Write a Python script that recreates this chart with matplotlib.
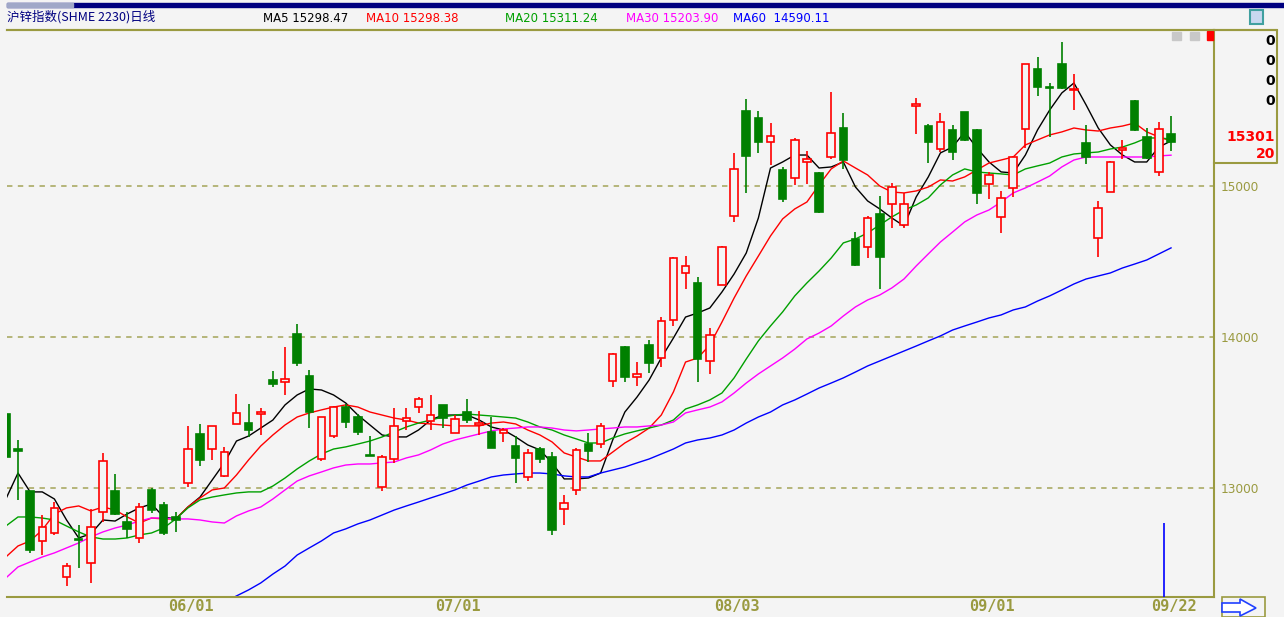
import numpy as np
import matplotlib.pyplot as plt
from matplotlib.patches import Rectangle, Polygon
from matplotlib.transforms import blended_transform_factory

# candle data (daily)
opens = [13490, 13258, 12980, 12649, 12702, 12411, 12662, 12503, 12841, 12980,
         12775, 12669, 12987, 12887, 12808, 13033, 13358, 13258, 13080, 13424,
         13430, 13490, 13715, 13702, 14020, 13742, 13192, 13344, 13536, 13470,
         13218, 13007, 13192, 13444, 13536, 13444, 13550, 13364, 13503, 13417,
         13371, 13364, 13278, 13073, 13258, 13205, 12861, 12987, 13291, 13291,
         13709, 13934, 13735, 13947, 13861, 14113, 14424, 14358, 13841, 14344,
         14801, 15497, 15450, 15291, 15106, 15053, 15159, 15086, 15192, 15384,
         14649, 14596, 14815, 14881, 14742, 15530, 15397, 15245, 15371, 15490,
         15371, 15013, 14795, 14987, 15377, 15775, 15656, 15808, 15636, 15285,
         14656, 14960, 15238, 15563, 15325, 15093, 15344]
highs = [13503, 13318, 12980, 12821, 12907, 12503, 12755, 12861, 13232, 13093,
         12841, 12901, 13000, 12907, 12841, 13410, 13424, 13410, 13272, 13622,
         13556, 13530, 13775, 13934, 14086, 13782, 13470, 13543, 13556, 13490,
         13344, 13218, 13530, 13530, 13602, 13616, 13550, 13483, 13589, 13510,
         13470, 13397, 13344, 13258, 13272, 13238, 12954, 13265, 13364, 13430,
         13894, 13940, 13834, 13980, 14132, 14530, 14536, 14397, 14060, 14603,
         15219, 15576, 15497, 15417, 15126, 15318, 15232, 15093, 15623, 15483,
         14695, 14801, 14934, 15020, 14954, 15583, 15411, 15483, 15404, 15490,
         15377, 15093, 14967, 15199, 15808, 15854, 15682, 15954, 15742, 15404,
         14901, 15166, 15305, 15570, 15384, 15424, 15464]
lows = [13199, 12921, 12570, 12556, 12689, 12351, 12470, 12371, 12775, 12821,
        12669, 12636, 12834, 12689, 12709, 13007, 13146, 13186, 13073, 13424,
        13338, 13351, 13669, 13616, 13808, 13397, 13179, 13331, 13397, 13351,
        13212, 12980, 13166, 13384, 13496, 13384, 13397, 13364, 13430, 13351,
        13265, 13305, 13033, 13046, 13166, 12689, 12755, 12954, 13172, 13265,
        13669, 13702, 13675, 13762, 13801, 14073, 14318, 13702, 13755, 14344,
        14762, 14954, 15219, 15139, 14894, 15007, 15013, 14821, 15179, 15113,
        14470, 14523, 14318, 14722, 14722, 15344, 15152, 15225, 15172, 15298,
        14881, 14914, 14689, 14927, 15252, 15596, 15325, 15642, 15503, 15146,
        14530, 14960, 15179, 15364, 15179, 15066, 15232]
closes = [13205, 13245, 12590, 12742, 12868, 12483, 12656, 12742, 13179, 12828,
          12729, 12874, 12854, 12702, 12788, 13258, 13186, 13410, 13238, 13497,
          13384, 13503, 13689, 13722, 13828, 13503, 13470, 13536, 13437, 13371,
          13212, 13205, 13410, 13463, 13589, 13483, 13463, 13457, 13450, 13430,
          13265, 13384, 13199, 13232, 13192, 12722, 12901, 13252, 13245, 13410,
          13887, 13735, 13755, 13828, 14106, 14523, 14470, 13854, 14013, 14596,
          15113, 15199, 15291, 15331, 14914, 15305, 15179, 14828, 15351, 15172,
          14477, 14788, 14530, 14993, 14881, 15543, 15291, 15424, 15225, 15305,
          14954, 15073, 14921, 15192, 15808, 15656, 15649, 15649, 15642, 15192,
          14854, 15159, 15252, 15371, 15185, 15377, 15291]

# moving averages as shown on the chart
ma5 = [12927, 13099, 12974, 12974, 12927, 12788, 12669, 12696, 12788, 12781,
       12828, 12868, 12894, 12808, 12795, 12874, 12940, 13053, 13166, 13311,
       13344, 13397, 13450, 13550, 13616, 13656, 13649, 13616, 13563, 13483,
       13417, 13351, 13338, 13338, 13384, 13450, 13483, 13483, 13483, 13450,
       13404, 13384, 13338, 13285, 13252, 13166, 13060, 13060, 13066, 13099,
       13318, 13503, 13602, 13715, 13861, 13993, 14132, 14159, 14192, 14298,
       14417, 14556, 14788, 15119, 15159, 15205, 15205, 15119, 15126, 15159,
       14993, 14901, 14848, 14788, 14735, 14927, 15060, 15219, 15258, 15358,
       15252, 15159, 15093, 15086, 15205, 15371, 15503, 15616, 15682, 15537,
       15384, 15272, 15205, 15159, 15159, 15258, 15298]
ma10 = [12543, 12616, 12649, 12722, 12828, 12868, 12881, 12848, 12874, 12854,
        12808, 12768, 12801, 12795, 12795, 12874, 12934, 12987, 13000, 13086,
        13186, 13278, 13351, 13417, 13470, 13497, 13517, 13536, 13550, 13536,
        13503, 13483, 13463, 13450, 13430, 13424, 13417, 13411, 13411, 13411,
        13430, 13437, 13424, 13384, 13351, 13305, 13232, 13205, 13179, 13179,
        13238, 13298, 13344, 13397, 13483, 13636, 13834, 13861, 13947, 14099,
        14258, 14404, 14536, 14669, 14782, 14848, 14894, 15007, 15113, 15166,
        15119, 15073, 15000, 14960, 14954, 14967, 14993, 15040, 15033, 15060,
        15106, 15152, 15172, 15192, 15272, 15305, 15338, 15358, 15384, 15371,
        15364, 15384, 15397, 15417, 15358, 15325, 15298]
ma20 = [12748, 12808, 12808, 12801, 12788, 12748, 12709, 12676, 12662, 12662,
        12669, 12689, 12702, 12735, 12795, 12868, 12921, 12940, 12954, 12967,
        12974, 12974, 13013, 13066, 13126, 13179, 13225, 13258, 13272, 13291,
        13311, 13338, 13371, 13404, 13430, 13450, 13470, 13483, 13490, 13483,
        13477, 13470, 13463, 13437, 13404, 13384, 13351, 13325, 13298, 13298,
        13331, 13358, 13378, 13397, 13417, 13450, 13523, 13550, 13583, 13629,
        13729, 13854, 13974, 14073, 14166, 14272, 14358, 14437, 14523, 14623,
        14649, 14689, 14742, 14795, 14841, 14874, 14921, 15007, 15073, 15113,
        15093, 15086, 15080, 15073, 15113, 15133, 15152, 15192, 15212, 15219,
        15225, 15245, 15258, 15285, 15318, 15318, 15311]
ma30 = [12404, 12477, 12510, 12543, 12570, 12603, 12636, 12676, 12709, 12735,
        12755, 12781, 12801, 12801, 12795, 12795, 12788, 12775, 12768, 12815,
        12848, 12874, 12927, 12987, 13046, 13080, 13106, 13133, 13152, 13159,
        13159, 13166, 13172, 13199, 13219, 13252, 13291, 13318, 13338, 13358,
        13378, 13391, 13397, 13404, 13404, 13397, 13384, 13378, 13384, 13391,
        13397, 13404, 13404, 13411, 13417, 13437, 13497, 13517, 13536, 13570,
        13629, 13695, 13755, 13808, 13861, 13920, 13987, 14026, 14073, 14139,
        14199, 14245, 14278, 14325, 14384, 14470, 14550, 14629, 14695, 14762,
        14808, 14841, 14894, 14954, 14987, 15026, 15066, 15126, 15172, 15192,
        15192, 15192, 15192, 15192, 15192, 15199, 15204]
ma60 = [None] * 18 + [
        12245, 12285, 12325, 12371, 12430, 12483, 12556, 12603, 12649, 12702,
        12729, 12762, 12788, 12821, 12854, 12881, 12907, 12934, 12960, 12987,
        13020, 13046, 13073, 13086, 13093, 13099, 13099, 13093, 13080, 13073,
        13073, 13099, 13119, 13139, 13166, 13192, 13225, 13258, 13298, 13318,
        13331, 13351, 13384, 13430, 13470, 13503, 13550, 13583, 13622, 13662,
        13695, 13729, 13768, 13808, 13841, 13874, 13907, 13940, 13974, 14007,
        14046, 14073, 14099, 14126, 14146, 14179, 14199, 14238, 14272, 14311,
        14351, 14384, 14404, 14424, 14457, 14483, 14510, 14550, 14590]

ma_names = ["MA5", "MA10", "MA20", "MA30", "MA60"]
ma_last = ["15298.47", "15298.38", "15311.24", "15203.90", " 14590.11"]
ma_colors = ["#000000", "#ff0000", "#00a000", "#ff00ff", "#0000ff"]

date_labels = ["06/01", "07/01", "08/03", "09/01", "09/22"]
date_idx = [15, 37, 60, 81, 96]
grid_levels = [13000, 14000, 15000]
title = "沪锌指数(SHME 2230)日线"
side_values = ["0", "0", "0", "0"]
last_price = ["15301", "20"]

BG = "#f4f4f4"
OLIVE = "#9a9a40"
UP = "#ff0000"
DOWN = "#008000"
W, H = 1284, 617


def fx(x):
    return x / W


def fy(y):
    return 1 - y / H


plt.rcParams['font.family'] = ['DejaVu Sans', 'Noto Sans CJK SC']

fig = plt.figure(figsize=(W / 100, H / 100), dpi=100)
fig.patch.set_facecolor(BG)

ax = fig.add_axes([fx(7), fy(597), fx(1214) - fx(7), fy(30) - fy(597)])
ax.set_facecolor(BG)
n = len(closes)
x = np.arange(n)
ax.set_xlim(0.094, 99.54)
ax.set_ylim(12278, 16033)

for lv in grid_levels:
    ax.axhline(lv, color="#b0b070", lw=1.3, ls=(0, (3, 3)), zorder=1)

# moving averages
ma_all = [ma5, ma10, ma20, ma30, ma60]
for vals, c in zip(ma_all, ma_colors):
    v = np.array([np.nan if a is None else a for a in vals], dtype=float)
    ax.plot(x, v, color=c, lw=1.0, zorder=2)

# candles
bw = 0.62
for i in range(n):
    o, h, l, c = opens[i], highs[i], lows[i], closes[i]
    up = c >= o
    col = UP if up else DOWN
    ax.vlines(i, l, h, color=col, lw=1.2, zorder=3)
    lo, hi = min(o, c), max(o, c)
    ax.add_patch(Rectangle((i - bw / 2, lo), bw, max(hi - lo, 1),
                           facecolor=BG if up else DOWN, edgecolor=col,
                           lw=1.2, zorder=4))

# cursor line near the last bars
ax.vlines(95.4, 12278, 12768, color="#0000ff", lw=1.2, zorder=3)

for s in ["left"]:
    ax.spines[s].set_visible(False)
for s in ["top", "right", "bottom"]:
    ax.spines[s].set_color(OLIVE)
    ax.spines[s].set_linewidth(1.5)

ax.set_xticks([])
ax.yaxis.tick_right()
ax.set_yticks(grid_levels)
ax.set_yticklabels([str(v) for v in grid_levels], color=OLIVE, fontsize=8.7)
ax.tick_params(axis="y", length=0, pad=5)

trans = blended_transform_factory(ax.transData, fig.transFigure)
for lab, k in zip(date_labels, date_idx):
    ax.text(k + 0.25, fy(607), lab, transform=trans, ha="center", va="center",
            color=OLIVE, fontsize=11, fontweight="bold",
            family="DejaVu Sans Mono")

# header
fig.patches.append(Rectangle((fx(7), fy(7)), fx(1284) - fx(7), 4 / H,
                             transform=fig.transFigure, color="#000080"))
fig.patches.append(Rectangle((fx(7), fy(7)), fx(73) - fx(7), 4 / H,
                             transform=fig.transFigure, color="#a0a8c8"))
fig.text(fx(7), fy(17), title, color="#000080", fontsize=9,
         family=["Noto Sans CJK SC"], va="center", ha="left")
ma_x = [263, 366, 505, 626, 733]
for name, val, c, px in zip(ma_names, ma_last, ma_colors, ma_x):
    fig.text(fx(px), fy(18), name + " " + val, color=c, fontsize=8.5,
             va="center", ha="left")

fig.lines.append(plt.Line2D([fx(7), fx(1277)], [fy(30), fy(30)],
                            transform=fig.transFigure, color=OLIVE, lw=1.5))

# right info box
fig.lines.append(plt.Line2D([fx(1214), fx(1277), fx(1277), fx(1214)],
                            [fy(30), fy(30), fy(163), fy(163)],
                            transform=fig.transFigure, color=OLIVE, lw=1.5))
for k, s in enumerate(side_values):
    fig.text(fx(1275), fy(41 + 20 * k), s, color="black", fontsize=10,
             fontweight="bold", ha="right", va="center")
fig.text(fx(1275), fy(137), last_price[0], color="red", fontsize=10,
         fontweight="bold", ha="right", va="center")
fig.text(fx(1275), fy(154), last_price[1], color="red", fontsize=10,
         fontweight="bold", ha="right", va="center")

# small buttons
fig.patches.append(Rectangle((fx(1172), fy(40)), 9 / W, 8 / H,
                             transform=fig.transFigure, color="#c8c8c8"))
fig.patches.append(Rectangle((fx(1190), fy(40)), 9 / W, 8 / H,
                             transform=fig.transFigure, color="#c8c8c8"))
fig.patches.append(Rectangle((fx(1207), fy(40)), 6 / W, 9 / H,
                             transform=fig.transFigure, color="#ff0000"))
fig.patches.append(Rectangle((fx(1250), fy(24)), 13 / W, 14 / H,
                             transform=fig.transFigure, facecolor="#c8d8f0",
                             edgecolor="#40a0a0", lw=1.5))

# arrow button
fig.patches.append(Rectangle((fx(1222), fy(617)), 43 / W, 20 / H,
                             transform=fig.transFigure, facecolor="none",
                             edgecolor=OLIVE, lw=1.2))
arrow = [(1222, 603), (1240, 603), (1240, 599), (1256, 608), (1240, 616),
         (1240, 612), (1222, 612)]
fig.patches.append(Polygon([(fx(a), fy(b)) for a, b in arrow],
                           transform=fig.transFigure, facecolor="white",
                           edgecolor="#2040ff", lw=1.2))

fig.savefig("out.png", dpi=100, facecolor=BG)
